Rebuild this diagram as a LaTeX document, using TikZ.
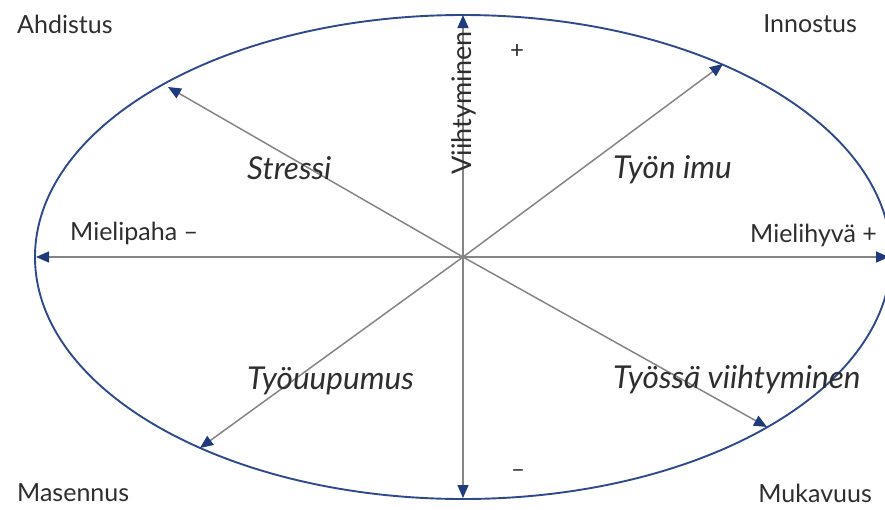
\documentclass[tikz,border=0pt]{standalone}
\usepackage{fontspec}
\setmainfont{Lato}
\usetikzlibrary{arrows.meta}
\definecolor{rimblue}{HTML}{2E4A8C}
\definecolor{tipblue}{HTML}{1F3B7C}
\definecolor{axisgray}{HTML}{858585}
\definecolor{labelgray}{HTML}{2E2E2E}

\begin{document}
\begin{tikzpicture}[
  x=1pt, y=-1pt,
  rim/.style={draw=rimblue, line width=1.9pt},
  flow/.style={-{Triangle[length=13pt, width=11pt, color=tipblue]}, axisgray, line width=1.5pt},
  corner/.style={font=\fontsize{25}{29}\selectfont, text=labelgray, inner sep=0pt},
  mood/.style={font=\fontsize{31.5}{36}\selectfont\itshape, text=labelgray, inner sep=0pt},
  sign/.style={font=\fontsize{24}{26}\selectfont, text=labelgray, inner sep=0pt}
]
\useasboundingbox (0,0) rectangle (885,509);
\coordinate (o) at (463,257);
\draw[rim] (o) ellipse [x radius=428pt, y radius=242pt];

% axis end points on the rim
\coordinate (ul) at (168,87);
\coordinate (ur) at (723,64);
\coordinate (ll) at (200,448);
\coordinate (lr) at (767,427);
\coordinate (lf) at (36,257);
\coordinate (rt) at (889,257);
\coordinate (tp) at (463,15);
\coordinate (bt) at (463,498);

\draw[flow] (o) -- (ul);
\draw[flow] (o) -- (ur);
\draw[flow] (o) -- (ll);
\draw[flow] (o) -- (lr);
\draw[flow] (o) -- (lf);
\draw[flow] (o) -- (rt);
\draw[flow] (o) -- (tp);
\draw[flow] (o) -- (bt);

\node[corner, anchor=west] (ahd) at (17,24) {Ahdistus};
\node[corner, anchor=east] (inn) at (857,24) {Innostus};
\node[corner, anchor=west] (mas) at (17,493) {Masennus};
\node[corner, anchor=east] (muk) at (872,493) {Mukavuus};
\node[corner, anchor=west] (pah) at (70,233) {Mielipaha –};
\node[corner, anchor=east] (hyv) at (877,235) {Mielihyvä +};
\node[corner, rotate=90, font=\fontsize{27}{30}\selectfont] (vii) at (464,103) {Viihtyminen};
\node[sign] (plus) at (517,52) {+};
\node[sign] (minus) at (518,474) {–};

\node[mood, anchor=west] (str) at (247,168) {Stressi};
\node[mood, anchor=west] (imu) at (613,170) {Työn imu};
\node[mood, anchor=west] (upu) at (247,381) {Työuupumus};
\node[mood, anchor=west] (vht) at (613,380) {Työssä viihtyminen};
\end{tikzpicture}
\end{document}
